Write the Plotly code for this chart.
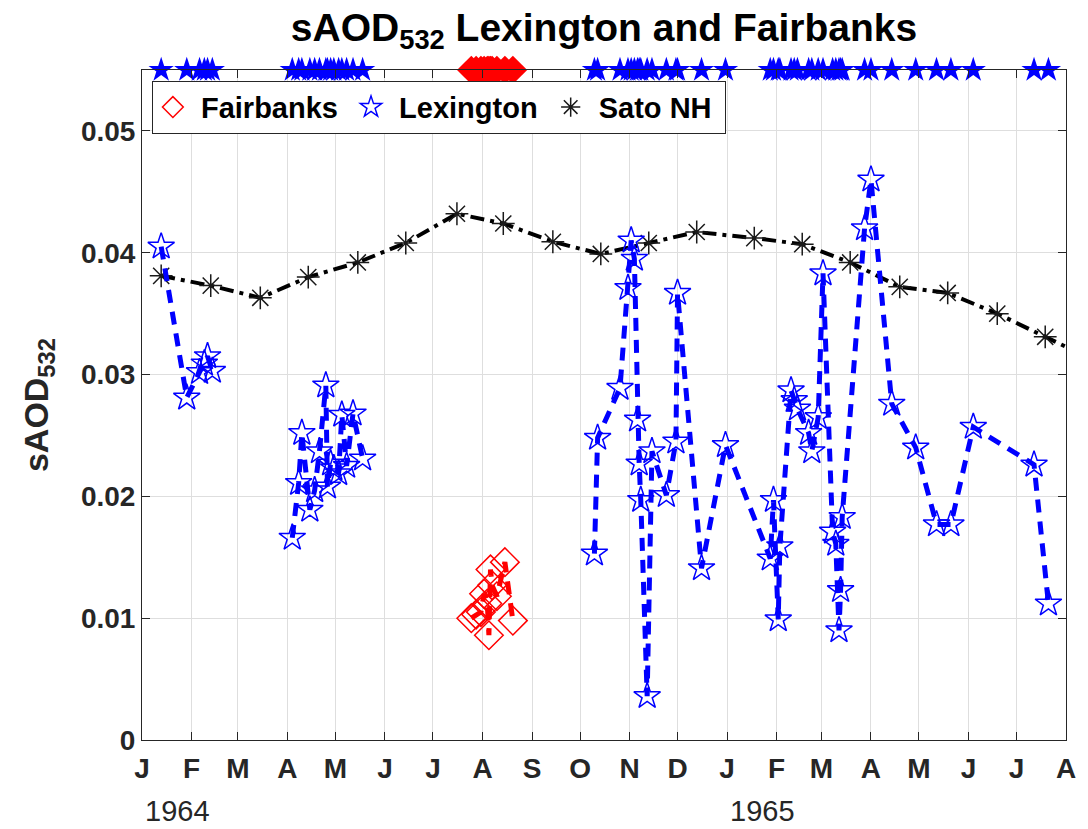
from datetime import date
import plotly.graph_objects as go

# --- Lexington stratospheric AOD at 532 nm ---
lex_dates = [
    "1964-01-13", "1964-01-29", "1964-02-06", "1964-02-09", "1964-02-11", "1964-02-14",
    "1964-04-04", "1964-04-08", "1964-04-10", "1964-04-15", "1964-04-18", "1964-04-21",
    "1964-04-25", "1964-04-26", "1964-04-28", "1964-04-30", "1964-05-03", "1964-05-05",
    "1964-05-08", "1964-05-12", "1964-05-18",
    "1964-10-10", "1964-10-12", "1964-10-26", "1964-10-31", "1964-11-02", "1964-11-04",
    "1964-11-06", "1964-11-07", "1964-11-08", "1964-11-12", "1964-11-15", "1964-11-24",
    "1964-11-30", "1964-12-01", "1964-12-16", "1964-12-31",
    "1965-01-28", "1965-01-30", "1965-02-02", "1965-02-03", "1965-02-10", "1965-02-12",
    "1965-02-14", "1965-02-21", "1965-02-23", "1965-02-27", "1965-03-02", "1965-03-08",
    "1965-03-10", "1965-03-12", "1965-03-13", "1965-03-14", "1965-03-28", "1965-04-01",
    "1965-04-14", "1965-04-29", "1965-05-12", "1965-05-21", "1965-06-04", "1965-07-12",
    "1965-07-21",
]
lex_saod = [
    0.0405, 0.0281, 0.0302, 0.0309, 0.0315, 0.0303,
    0.0166, 0.0211, 0.0252, 0.0189, 0.0205, 0.0237,
    0.0291, 0.0208, 0.0227, 0.0223, 0.0219, 0.0267,
    0.0225, 0.0268, 0.0231,
    0.0153, 0.0248, 0.0289, 0.0371, 0.0410, 0.0395,
    0.0263, 0.0227, 0.0197, 0.0036, 0.0237, 0.0201,
    0.0245, 0.0367, 0.0141, 0.0242,
    0.0149, 0.0197, 0.0099, 0.0159, 0.0287, 0.0279,
    0.0272, 0.0252, 0.0237, 0.0265, 0.0383, 0.0171,
    0.0161, 0.0090, 0.0123, 0.0183, 0.0420, 0.0460,
    0.0276, 0.0240, 0.0177, 0.0177, 0.0257, 0.0226,
    0.0112,
]

# --- Fairbanks ---
fai_dates = [
    "1964-07-25", "1964-07-28", "1964-07-31", "1964-08-02", "1964-08-04", "1964-08-05",
    "1964-08-06", "1964-08-07", "1964-08-10", "1964-08-15", "1964-08-20",
]
fai_saod = [0.0100, 0.0103, 0.0105, 0.0120, 0.0112, 0.0086,
            0.0140, 0.0127, 0.0118, 0.0146, 0.0098]

# --- Sato NH monthly ---
sato_dates = [
    "1964-01-13", "1964-02-13", "1964-03-15", "1964-04-14", "1964-05-15", "1964-06-14",
    "1964-07-16", "1964-08-14", "1964-09-14", "1964-10-14", "1964-11-13", "1964-12-13",
    "1965-01-18", "1965-02-17", "1965-03-19", "1965-04-19", "1965-05-19", "1965-06-19",
    "1965-07-19", "1965-08-18",
]
sato_saod = [
    0.0381, 0.0373, 0.0363, 0.0380, 0.0392, 0.0408,
    0.0432, 0.0424, 0.0409, 0.0399, 0.0408, 0.0417,
    0.0412, 0.0407, 0.0392, 0.0372, 0.0367, 0.0350,
    0.0331, 0.0312,
]

# Axis ticks
month_ticks = [
    "1964-01-01", "1964-02-01", "1964-03-01", "1964-04-01", "1964-05-01", "1964-06-01",
    "1964-07-01", "1964-08-01", "1964-09-01", "1964-10-01", "1964-11-01", "1964-12-01",
    "1965-01-01", "1965-02-01", "1965-03-01", "1965-04-01", "1965-05-01", "1965-06-01",
    "1965-07-01", "1965-08-01",
]
month_labels = ["J", "F", "M", "A", "M", "J", "J", "A", "S", "O", "N", "D",
                "J", "F", "M", "A", "M", "J", "J", "A"]
y_ticks = [0, 0.01, 0.02, 0.03, 0.04, 0.05]
y_labels = ["0", "0.01", "0.02", "0.03", "0.04", "0.05"]
year_labels = ["1964", "1965"]

Y_TOP = 0.055
MAX_GAP_DAYS = 45          # longer breaks between campaigns are not joined
FONT = "Liberation Sans, Arial, sans-serif"
AX = "#262626"
BLUE = "#0000ff"
RED = "#ff0000"
NBSP = "\u00a0"


def with_gaps(dates, values, max_gap=MAX_GAP_DAYS):
    """Insert None between samples separated by more than max_gap days."""
    xs, ys = [], []
    prev = None
    for d, v in zip(dates, values):
        cur = date.fromisoformat(d)
        if prev is not None and (cur - prev).days > max_gap:
            xs.append(None)
            ys.append(None)
        xs.append(d)
        ys.append(v)
        prev = cur
    return xs, ys


fig = go.Figure()

fig.add_trace(go.Scatter(
    x=sato_dates, y=sato_saod, mode="lines+markers", showlegend=False,
    line=dict(color="black", width=4, dash="14px,6px,4px,6px"),
    marker=dict(symbol="asterisk-open", size=19, color="#1a1a1a",
                line=dict(color="#1a1a1a", width=1.5)),
))
lx, ly = with_gaps(lex_dates, lex_saod)
fig.add_trace(go.Scatter(
    x=lx, y=ly, mode="lines+markers", showlegend=False, connectgaps=False,
    line=dict(color=BLUE, width=5, dash="13px,9px"),
    marker=dict(symbol="star-open", size=20, color=BLUE,
                line=dict(color=BLUE, width=1.5)),
))
fx, fy = with_gaps(fai_dates, fai_saod)
fig.add_trace(go.Scatter(
    x=fx, y=fy, mode="lines+markers", showlegend=False, connectgaps=False,
    line=dict(color=RED, width=5, dash="13px,9px"),
    marker=dict(symbol="diamond-open", size=22, color=RED,
                line=dict(color=RED, width=1.5)),
))

# Sampling dates along the top edge
fig.add_trace(go.Scatter(
    x=lex_dates, y=[Y_TOP] * len(lex_dates), mode="markers", showlegend=False,
    cliponaxis=False,
    marker=dict(symbol="star", size=19, color=BLUE, line=dict(width=0)),
))
fig.add_trace(go.Scatter(
    x=fai_dates, y=[Y_TOP] * len(fai_dates), mode="markers", showlegend=False,
    cliponaxis=False,
    marker=dict(symbol="diamond", size=22, color=RED, line=dict(width=0)),
))

# Legend entries (symbols only)
for name, sym, col in [("Fairbanks", "diamond-open", RED),
                       ("Lexington", "star-open", BLUE),
                       ("Sato NH", "asterisk-open", "#1a1a1a")]:
    fig.add_trace(go.Scatter(
        x=[None], y=[None], mode="markers", name=NBSP + name + NBSP,
        marker=dict(symbol=sym, size=22, color=col, line=dict(color=col, width=1.5)),
    ))

fig.update_layout(
    width=1088, height=829,
    margin=dict(l=142, r=13, t=70, b=89, pad=0),
    paper_bgcolor="white", plot_bgcolor="white",
    font=dict(family=FONT, color=AX),
    title=dict(
        text="sAOD<sub>532</sub> Lexington and Fairbanks",
        x=0.5, xref="paper", xanchor="center",
        y=1 - 27 / 829, yref="container", yanchor="middle",
        font=dict(family=FONT, size=39, weight="bold", color="black"),
    ),
    legend=dict(
        orientation="h", x=0.0107, y=0.984, xanchor="left", yanchor="top",
        bgcolor="white", bordercolor=AX, borderwidth=1,
        font=dict(family=FONT, size=29, weight="bold", color="black"),
        itemsizing="trace", traceorder="normal", tracegroupgap=0,
    ),
    xaxis=dict(
        type="date", range=[month_ticks[0], month_ticks[-1]],
        tickmode="array", tickvals=month_ticks, ticktext=month_labels,
        ticks="inside", ticklen=8, tickcolor=AX, tickwidth=1,
        showline=True, linecolor=AX, linewidth=1, mirror="ticks",
        showgrid=True, gridcolor="#dedede", gridwidth=1, zeroline=False,
        tickfont=dict(family=FONT, size=28, weight="bold", color=AX),
        ticklabelstandoff=3,
    ),
    yaxis=dict(
        range=[0, Y_TOP],
        tickmode="array", tickvals=y_ticks, ticktext=y_labels,
        ticks="inside", ticklen=8, tickcolor=AX, tickwidth=1,
        showline=True, linecolor=AX, linewidth=1, mirror="ticks",
        showgrid=True, gridcolor="#dedede", gridwidth=1, zeroline=False,
        tickfont=dict(family=FONT, size=28, weight="bold", color=AX),
        title=dict(text="sAOD<sub>532</sub>", standoff=22,
                   font=dict(family=FONT, size=34, weight="bold", color=AX)),
    ),
)

# Year labels beneath the month axis
for label, xp in zip(year_labels, [0.0385, 0.671]):
    fig.add_annotation(
        text=label, x=xp, y=-0.1060, xref="paper", yref="paper",
        xanchor="center", yanchor="middle", showarrow=False,
        font=dict(family=FONT, size=29, color=AX),
    )

fig.write_html("out.html")
